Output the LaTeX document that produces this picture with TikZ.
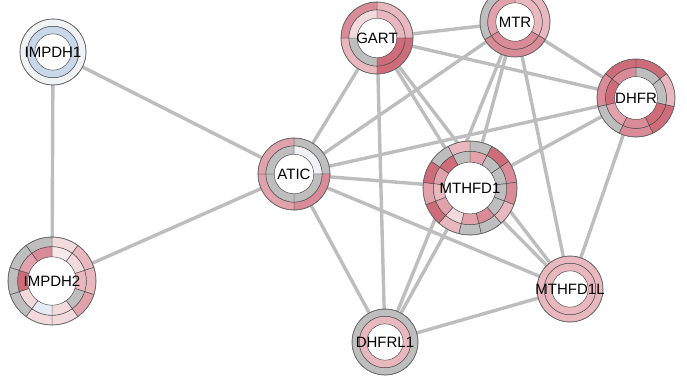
\documentclass[tikz,border=0pt]{standalone}
\usepackage{fontspec}
\newfontfamily\genefont{Liberation Sans}
\usetikzlibrary{calc}
\pgfdeclarelayer{edges}
\pgfdeclarelayer{rings}
\pgfsetlayers{edges,rings,main}
\definecolor{edgegray}{HTML}{BDBDBD}
\definecolor{ringline}{HTML}{4A4A4A}
\definecolor{ringborder}{HTML}{6A6A6A}
\definecolor{sgray}{HTML}{BEBEBE}
\definecolor{dpink}{HTML}{CF6C7A}
\definecolor{mpink}{HTML}{D98C97}
\definecolor{rpink}{HTML}{E1A2AB}
\definecolor{lpink}{HTML}{E8B8BE}
\definecolor{vpink}{HTML}{F2D9DC}
\definecolor{wpink}{HTML}{F6E9EB}
\definecolor{vblue}{HTML}{E6ECF4}
\definecolor{lblue}{HTML}{C9D7EA}
\definecolor{wgray}{HTML}{F1F2F5}
\tikzset{
  gene_font/.style = {font=\genefont\fontsize{15}{17}\selectfont},
  gene/.style = {gene_font, inner sep=0, text=black},
  interaction/.style = {line width=3.4, draw=edgegray},
  ring_line/.style = {draw=ringline, line width=0.45},
  ring_border/.style = {draw=ringborder, line width=0.6}
}
% #1 node, #2 inner radius, #3 outer radius, #4 colours from 12 o'clock clockwise
\newcommand{\drawring}[4]{%
  \foreach \col [count=\k] in {#4} {\xdef\nseg{\k}}%
  \ifnum\nseg=1\relax
    \path[fill=#4, even odd rule] (#1) circle[radius=#3] (#1) circle[radius=#2];
    \draw[ring_line] (#1) circle[radius=#3] (#1) circle[radius=#2];
  \else
    \foreach \col [count=\k] in {#4} {
      \pgfmathsetmacro\ta{90-(\k-1)*360/\nseg}
      \pgfmathsetmacro\tb{90-\k*360/\nseg}
      \filldraw[ring_line, fill=\col] ($(#1)+(\ta:#3)$) arc[start angle=\ta, end angle=\tb, radius=#3]
        -- ($(#1)+(\tb:#2)$) arc[start angle=\tb, end angle=\ta, radius=#2] -- cycle;
    }
  \fi
}
% #1 node, #2 radius, #3 outer ring, #4 inner ring
\newcommand{\genering}[4]{%
  \pgfmathsetmacro\rmid{0.78*#2}
  \pgfmathsetmacro\rin{0.55*#2}
  \fill[white] (#1) circle[radius=\rin pt];
  \drawring{#1}{\rmid pt}{#2pt}{#3}
  \drawring{#1}{\rin pt}{\rmid pt}{#4}
  \draw[ring_border] (#1) circle[radius=#2pt];
}

\begin{document}
\begin{tikzpicture}[x=1pt, y=-1pt]
  \useasboundingbox (0,0) rectangle (687,386);

  % Genes
  \node[gene] (impdh1) at (53,52) {IMPDH1};
  \node[gene] (gart) at (377,38) {GART};
  \node[gene] (mtr) at (515,22) {MTR};
  \node[gene] (dhfr) at (636,98) {DHFR};
  \node[gene] (atic) at (294,174) {ATIC};
  \node[gene] (mthfd1) at (470,188) {MTHFD1};
  \node[gene] (impdh2) at (52,281) {IMPDH2};
  \node[gene] (mthfd1l) at (570,289) {MTHFD1L};
  \node[gene] (dhfrl1) at (385,342) {DHFRL1};

  % Interactions
  \begin{pgfonlayer}{edges}
    \draw[interaction] (impdh1.center)--(impdh2.center);
    \draw[interaction] (impdh1.center)--(atic.center);
    \draw[interaction] (impdh2.center)--(atic.center);
    \draw[interaction] (atic.center)--(gart.center);
    \draw[interaction] (atic.center)--(mtr.center);
    \draw[interaction] (atic.center)--(dhfr.center);
    \draw[interaction] (atic.center)--(mthfd1.center);
    \draw[interaction] (atic.center)--(mthfd1l.center);
    \draw[interaction] (atic.center)--(dhfrl1.center);
    \draw[interaction] (gart.center)--(mtr.center);
    \draw[interaction] (gart.center)--(dhfr.center);
    \draw[interaction] (gart.center)--(mthfd1.center);
    \draw[interaction] (gart.center)--(mthfd1l.center);
    \draw[interaction] (gart.center)--(dhfrl1.center);
    \draw[interaction] (mtr.center)--(dhfr.center);
    \draw[interaction] (mtr.center)--(mthfd1.center);
    \draw[interaction] (mtr.center)--(mthfd1l.center);
    \draw[interaction] (mtr.center)--(dhfrl1.center);
    \draw[interaction] (dhfr.center)--(mthfd1.center);
    \draw[interaction] (dhfr.center)--(mthfd1l.center);
    \draw[interaction] (mthfd1.center)--(mthfd1l.center);
    \draw[interaction] (mthfd1.center)--(dhfrl1.center);
    \draw[interaction] (mthfd1l.center)--(dhfrl1.center);
  \end{pgfonlayer}

  % Rings
  \begin{pgfonlayer}{rings}
    \genering{impdh1}{33}{wgray}{lblue}
    \genering{gart}{36}{lpink,dpink,lpink,mpink}{lpink,dpink,sgray,vpink}
    \genering{mtr}{35}{lpink,mpink,sgray}{lpink,mpink,rpink}
    \genering{dhfr}{39}{dpink,lpink,dpink,mpink,sgray,mpink,dpink}{sgray,sgray,dpink,mpink,rpink,dpink,mpink}
    \genering{atic}{36}{sgray,mpink,rpink,rpink}{wgray,sgray,sgray,sgray}
    \genering{mthfd1}{47}{sgray,dpink,mpink,mpink,lpink,sgray,sgray,lpink,dpink,rpink,dpink,sgray,lpink}{rpink,sgray,sgray,sgray,sgray,mpink,rpink,vpink,rpink,lpink,rpink,dpink,sgray}
    \genering{impdh2}{44}{vpink,lpink,lpink,rpink,vpink,vpink,sgray,sgray,sgray,sgray}{wpink,vpink,lpink,sgray,vpink,vblue,vpink,dpink,rpink,mpink}
    \genering{mthfd1l}{33}{lpink}{lpink}
    \genering{dhfrl1}{33}{sgray}{lpink}
  \end{pgfonlayer}
\end{tikzpicture}
\end{document}
